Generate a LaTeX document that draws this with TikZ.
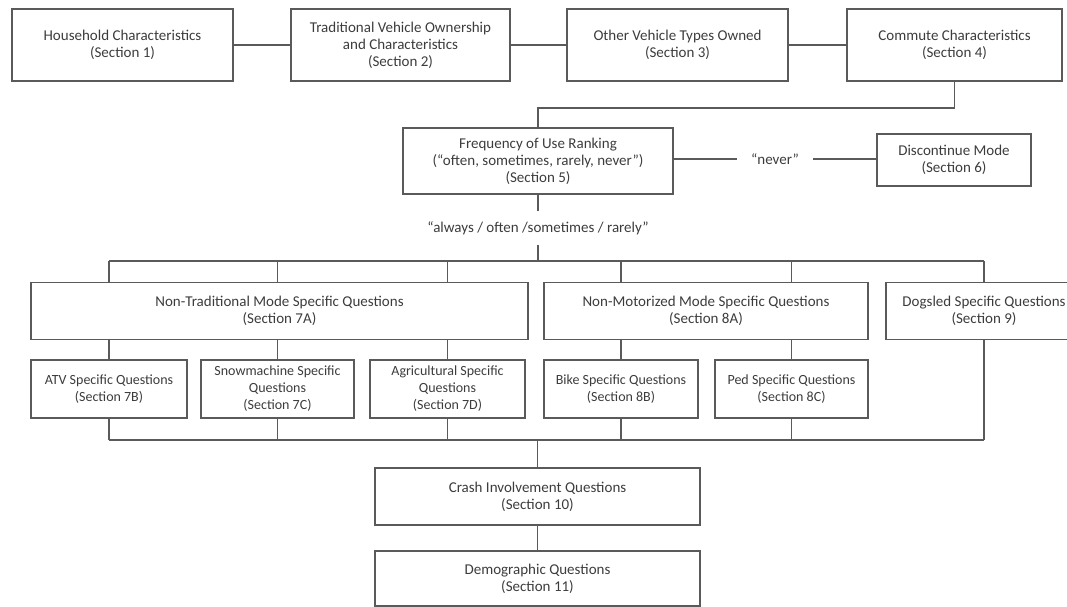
\documentclass[tikz,border=0pt]{standalone}
\usepackage{fontspec}
\setmainfont{Carlito}
\definecolor{lncol}{RGB}{90,90,90}
\definecolor{txtcol}{RGB}{60,60,60}
\begin{document}
\begin{tikzpicture}[x=1pt,y=-1pt,
  ln/.style={draw=lncol,line width=1.4pt},
  box/.style={draw=lncol,line width=1.4pt,align=center,text=txtcol,inner sep=0pt,
    font=\fontsize{15}{17}\selectfont},
  sbox/.style={box,font=\fontsize{14}{17}\selectfont,minimum height=58pt},
  lbl/.style={text=txtcol,inner sep=0pt,font=\fontsize{15}{17}\selectfont}]
\useasboundingbox (0,0) rectangle (1067,607);
\pgfmathsetmacro{\ytop}{108}
\pgfmathsetmacro{\bustop}{261}
\pgfmathsetmacro{\busbot}{440}
\coordinate (mid) at (0,\ytop);
\coordinate (tb) at (0,\bustop);
\coordinate (bb) at (0,\busbot);
% top row
\node[box,minimum width=221pt,minimum height=72pt] (hh) at (122.5,45) {Household Characteristics\\(Section 1)};
\node[box,minimum width=219pt,minimum height=72pt] (trad) at (400.5,45) {Traditional Vehicle Ownership\\and Characteristics\\(Section 2)};
\node[box,minimum width=221pt,minimum height=72pt] (other) at (677.5,45) {Other Vehicle Types Owned\\(Section 3)};
\node[box,minimum width=215pt,minimum height=72pt] (comm) at (954.5,45) {Commute Characteristics\\(Section 4)};
\draw[ln](hh)--(trad);
\draw[ln](trad)--(other);
\draw[ln](other)--(comm);
% frequency
\node[box,minimum width=270pt,minimum height=66pt] (freq) at (538,161) {Frequency of Use Ranking\\(``often, sometimes, rarely, never'')\\(Section 5)};
\node[box,minimum width=154pt,minimum height=52pt] (disc) at (954,160) {Discontinue Mode\\(Section 6)};
\node[lbl,minimum width=76pt] (never) at (775,159) {``never''};
\draw[ln](comm.south)--(comm.south|-mid)-|(freq.north);
\draw[ln](freq.east|-never)--(never);
\draw[ln](never)--(disc.west|-never);
\node[lbl,minimum height=34pt] (often) at (538,228) {``always / often /sometimes / rarely''};
\draw[ln](freq.south)--(often.north);
\draw[ln](often.south)--(often.south|-tb);
% mode groups
\node[box,minimum width=497pt,minimum height=57pt] (nt) at (279.5,311) {Non-Traditional Mode Specific Questions\\(Section 7A)};
\node[box,minimum width=324pt,minimum height=57pt] (nm) at (706,311) {Non-Motorized Mode Specific Questions\\(Section 8A)};
\node[box,minimum width=196pt,minimum height=57pt] (dog) at (984,311) {Dogsled Specific Questions\\(Section 9)};
\node[sbox,minimum width=156pt] (atv) at (109,389) {ATV Specific Questions\\(Section 7B)};
\node[sbox,minimum width=153pt] (snow) at (277.5,389) {Snowmachine Specific\\Questions\\(Section 7C)};
\node[sbox,minimum width=155pt] (agri) at (447.5,389) {Agricultural Specific\\Questions\\(Section 7D)};
\node[sbox,minimum width=154pt] (bike) at (621,389) {Bike Specific Questions\\(Section 8B)};
\node[sbox,minimum width=153pt] (ped) at (791.5,389) {Ped Specific Questions\\(Section 8C)};
\foreach \c/\p in {atv/nt,snow/nt,agri/nt,bike/nm,ped/nm}{
  \draw[ln](\c.north|-tb)--(\c.north|-\p.north);
  \draw[ln](\c.north|-\p.south)--(\c.north);
  \draw[ln](\c.south)--(\c.south|-bb);}
\draw[ln](dog.north|-tb)--(dog.north);
\draw[ln](dog.south)--(dog.south|-bb);
\draw[ln](atv.north|-tb)--(dog.north|-tb);
\draw[ln](atv.south|-bb)--(dog.south|-bb);
% closing sections
\node[box,minimum width=325pt,minimum height=57pt] (crash) at (537.5,496.5) {Crash Involvement Questions\\(Section 10)};
\node[box,minimum width=325pt,minimum height=55pt] (demo) at (537.5,578.5) {Demographic Questions\\(Section 11)};
\draw[ln](crash.north|-bb)--(crash.north);
\draw[ln](crash)--(demo);
\end{tikzpicture}
\end{document}
